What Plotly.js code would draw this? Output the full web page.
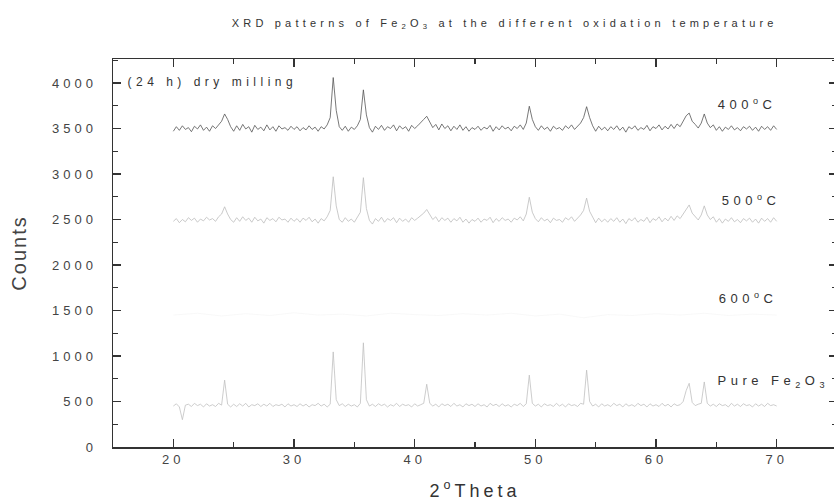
<!DOCTYPE html>
<html><head><meta charset="utf-8">
<script src="https://cdn.plot.ly/plotly-3.0.1.min.js"></script>
<style>
html,body{margin:0;padding:0;overflow:hidden;background:#fff;}
#plot{width:840px;height:503px;}
#plot .xtick text, #plot .ytick text{letter-spacing:4px;}
#plot .gtitle{letter-spacing:4.2px;}
#plot .annotation-text{letter-spacing:4.5px;}
#plot .ytitle{letter-spacing:2px;}
#plot .xtitle{letter-spacing:4px;}
</style></head><body><div id="plot"></div>
<script>
var twoTheta = [
20,20.25,20.5,20.75,21,21.25,21.5,21.75,22,22.25,22.5,22.75,23,23.25,23.5,23.75,24,24.25,24.5,24.75,
25,25.25,25.5,25.75,26,26.25,26.5,26.75,27,27.25,27.5,27.75,28,28.25,28.5,28.75,29,29.25,29.5,29.75,
30,30.25,30.5,30.75,31,31.25,31.5,31.75,32,32.25,32.5,32.75,33,33.25,33.5,33.75,34,34.25,34.5,34.75,
35,35.25,35.5,35.75,36,36.25,36.5,36.75,37,37.25,37.5,37.75,38,38.25,38.5,38.75,39,39.25,39.5,39.75,
40,40.25,40.5,40.75,41,41.25,41.5,41.75,42,42.25,42.5,42.75,43,43.25,43.5,43.75,44,44.25,44.5,44.75,
45,45.25,45.5,45.75,46,46.25,46.5,46.75,47,47.25,47.5,47.75,48,48.25,48.5,48.75,49,49.25,49.5,49.75,
50,50.25,50.5,50.75,51,51.25,51.5,51.75,52,52.25,52.5,52.75,53,53.25,53.5,53.75,54,54.25,54.5,54.75,
55,55.25,55.5,55.75,56,56.25,56.5,56.75,57,57.25,57.5,57.75,58,58.25,58.5,58.75,59,59.25,59.5,59.75,
60,60.25,60.5,60.75,61,61.25,61.5,61.75,62,62.25,62.5,62.75,63,63.25,63.5,63.75,64,64.25,64.5,64.75,
65,65.25,65.5,65.75,66,66.25,66.5,66.75,67,67.25,67.5,67.75,68,68.25,68.5,68.75,69,69.25,69.5,69.75,
70];

var counts400 = [
3470,3520,3480,3530,3490,3510,3465,3525,3495,3540,3480,3515,3470,3530,3500,3545,3580,3660,3600,3520,
3470,3530,3480,3545,3495,3520,3460,3535,3490,3515,3475,3540,3485,3520,3470,3530,3495,3510,3480,3525,
3490,3520,3475,3510,3485,3530,3490,3515,3470,3520,3495,3540,3620,4060,3700,3520,3480,3525,3470,3515,
3490,3530,3600,3925,3650,3510,3460,3525,3490,3535,3480,3520,3500,3540,3475,3530,3495,3520,3470,3535,
3500,3530,3560,3600,3635,3570,3510,3545,3485,3550,3500,3530,3475,3525,3490,3540,3480,3520,3470,3510,
3490,3525,3480,3515,3495,3535,3470,3520,3485,3530,3495,3515,3475,3525,3500,3540,3490,3560,3745,3600,
3520,3480,3530,3490,3515,3470,3525,3495,3510,3480,3530,3500,3540,3490,3525,3560,3620,3740,3620,3530,
3470,3525,3485,3515,3475,3520,3490,3530,3480,3515,3460,3520,3495,3530,3480,3510,3490,3535,3475,3520,
3500,3540,3485,3525,3495,3545,3500,3550,3520,3580,3640,3670,3580,3545,3505,3560,3660,3560,3510,3540,
3480,3520,3470,3515,3490,3530,3485,3510,3475,3520,3495,3525,3480,3515,3470,3525,3490,3520,3480,3530,
3490];

var counts500 = [
2480,2510,2465,2500,2475,2520,2490,2515,2470,2505,2485,2525,2495,2510,2480,2530,2560,2640,2560,2500,
2470,2520,2480,2530,2490,2515,2470,2525,2485,2505,2460,2520,2490,2510,2475,2525,2495,2505,2470,2515,
2480,2510,2470,2515,2490,2525,2475,2505,2460,2510,2485,2530,2600,2970,2650,2500,2470,2520,2480,2505,
2470,2520,2580,2960,2620,2490,2450,2510,2480,2525,2470,2510,2490,2520,2465,2515,2480,2505,2470,2520,
2490,2515,2540,2570,2610,2550,2500,2530,2475,2520,2490,2515,2470,2510,2485,2525,2470,2505,2460,2500,
2480,2515,2470,2505,2490,2525,2465,2510,2480,2520,2490,2505,2470,2515,2495,2530,2485,2560,2745,2580,
2510,2475,2520,2485,2505,2465,2515,2490,2500,2470,2520,2495,2530,2480,2515,2550,2600,2735,2590,2520,
2465,2515,2475,2505,2470,2510,2480,2520,2470,2505,2455,2510,2485,2520,2470,2500,2480,2525,2465,2510,
2490,2530,2475,2515,2485,2535,2490,2540,2510,2560,2610,2660,2570,2535,2495,2550,2650,2550,2500,2530,
2470,2510,2460,2505,2480,2520,2475,2500,2465,2510,2485,2515,2470,2505,2460,2515,2480,2510,2470,2520,
2480];

var twoTheta600 = [20,22,24,26,28,30,32,34,36,38,40,42,44,46,48,50,52,54,56,58,60,62,64,66,68,70];
var counts600 = [1450,1470,1440,1465,1445,1475,1450,1460,1440,1470,1455,1445,1465,1450,1470,1440,1460,1420,1455,1445,1465,1450,1470,1445,1460,1450];

var countsPure = [
450,475,440,300,460,470,445,480,455,470,440,475,450,465,445,480,460,735,470,440,
470,445,475,450,480,440,465,455,475,445,470,450,480,445,465,455,470,440,475,450,
465,445,475,450,470,440,465,455,480,450,470,440,470,1045,520,455,475,445,470,450,
465,440,480,1145,520,450,470,445,475,455,470,440,465,450,480,445,470,455,465,440,
475,450,465,480,690,480,450,470,440,475,455,470,445,480,450,465,440,475,455,470,
445,475,450,465,440,480,455,470,445,475,450,465,440,470,455,480,445,475,790,480,
450,470,440,475,455,465,445,480,450,470,440,475,455,465,445,480,470,845,500,450,
470,440,475,450,465,445,480,455,470,440,475,450,465,445,480,455,470,440,475,450,
465,445,480,450,470,440,475,455,465,500,620,700,490,455,470,480,715,480,450,470,
445,475,455,465,440,480,450,470,445,475,455,465,440,475,450,470,445,480,455,465,
450];

var xTicks = [20,30,40,50,60,70];
var xTickText = ['20','30','40','50','60','70'];
var yTicks = [0,500,1000,1500,2000,2500,3000,3500,4000];
var yTickText = ['0','500','1000','1500','2000','2500','3000','3500','4000'];

var traces = [
  {x: twoTheta, y: counts400, mode:'lines', name:'400°C', line:{color:'#555555', width:0.8}},
  {x: twoTheta, y: counts500, mode:'lines', name:'500°C', line:{color:'#bdbdbd', width:0.8}},
  {x: twoTheta600, y: counts600, mode:'lines', name:'600°C', line:{color:'#f4f4f4', width:0.6}},
  {x: twoTheta, y: countsPure, mode:'lines', name:'Pure Fe2O3', line:{color:'#c0c0c0', width:0.8}}
];

var axisCommon = {
  showgrid:false, zeroline:false, showline:true, linecolor:'#333', linewidth:1.5,
  mirror:'ticks', ticks:'inside', ticklen:8, tickwidth:1.5, tickcolor:'#333',
  tickfont:{size:13, color:'#444'}
};

var layout = {
  width:840, height:503,
  margin:{l:113, r:3, t:59, b:56},
  paper_bgcolor:'#ffffff', plot_bgcolor:'#ffffff',
  showlegend:false,
  font:{family:'Arial, "Liberation Sans", sans-serif', color:'#444'},
  title:{text:'XRD patterns of Fe<sub>2</sub>O<sub>3</sub> at the different oxidation temperature',
         xref:'paper', x:0.541, xanchor:'center', yref:'container', y:0.954, yanchor:'middle',
         font:{size:11, color:'#333'}},
  xaxis: Object.assign({}, axisCommon, {
    range:[15,75], tickmode:'array', tickvals:xTicks, ticktext:xTickText,
    minor:{tickvals:[15,25,35,45,55,65,75], ticks:'inside', ticklen:5, tickwidth:1.2, tickcolor:'#333'},
    title:{text:'2<sup>o</sup>Theta', font:{size:18, color:'#333'}, standoff:18}
  }),
  yaxis: Object.assign({}, axisCommon, {
    range:[0,4264], tickmode:'array', tickvals:yTicks, ticktext:yTickText,
    ticklabelstandoff:12,
    minor:{tickvals:[250,750,1250,1750,2250,2750,3250,3750,4250], ticks:'inside', ticklen:5, tickwidth:1.2, tickcolor:'#333'},
    title:{text:'Counts', font:{size:20, color:'#444'}, standoff:36}
  }),
  annotations:[
    {x:23.24, y:4011, xref:'x', yref:'y', xanchor:'center', yanchor:'middle', showarrow:false,
     text:'(24 h) dry milling', font:{size:12, color:'#333'}},
    {x:67.5, y:3769, xref:'x', yref:'y', xanchor:'center', yanchor:'middle', showarrow:false,
     text:'400<sup>o</sup>C', font:{size:13, color:'#333'}},
    {x:67.9, y:2714, xref:'x', yref:'y', xanchor:'center', yanchor:'middle', showarrow:false,
     text:'500<sup>o</sup>C', font:{size:13, color:'#333'}},
    {x:67.65, y:1637, xref:'x', yref:'y', xanchor:'center', yanchor:'middle', showarrow:false,
     text:'600<sup>o</sup>C', font:{size:13, color:'#333'}},
    {x:69.7, y:725, xref:'x', yref:'y', xanchor:'center', yanchor:'middle', showarrow:false,
     text:'Pure Fe<sub>2</sub>O<sub>3</sub>', font:{size:13, color:'#333'}}
  ]
};

Plotly.newPlot('plot', traces, layout, {displayModeBar:false, staticPlot:true});
</script>
</body></html>
